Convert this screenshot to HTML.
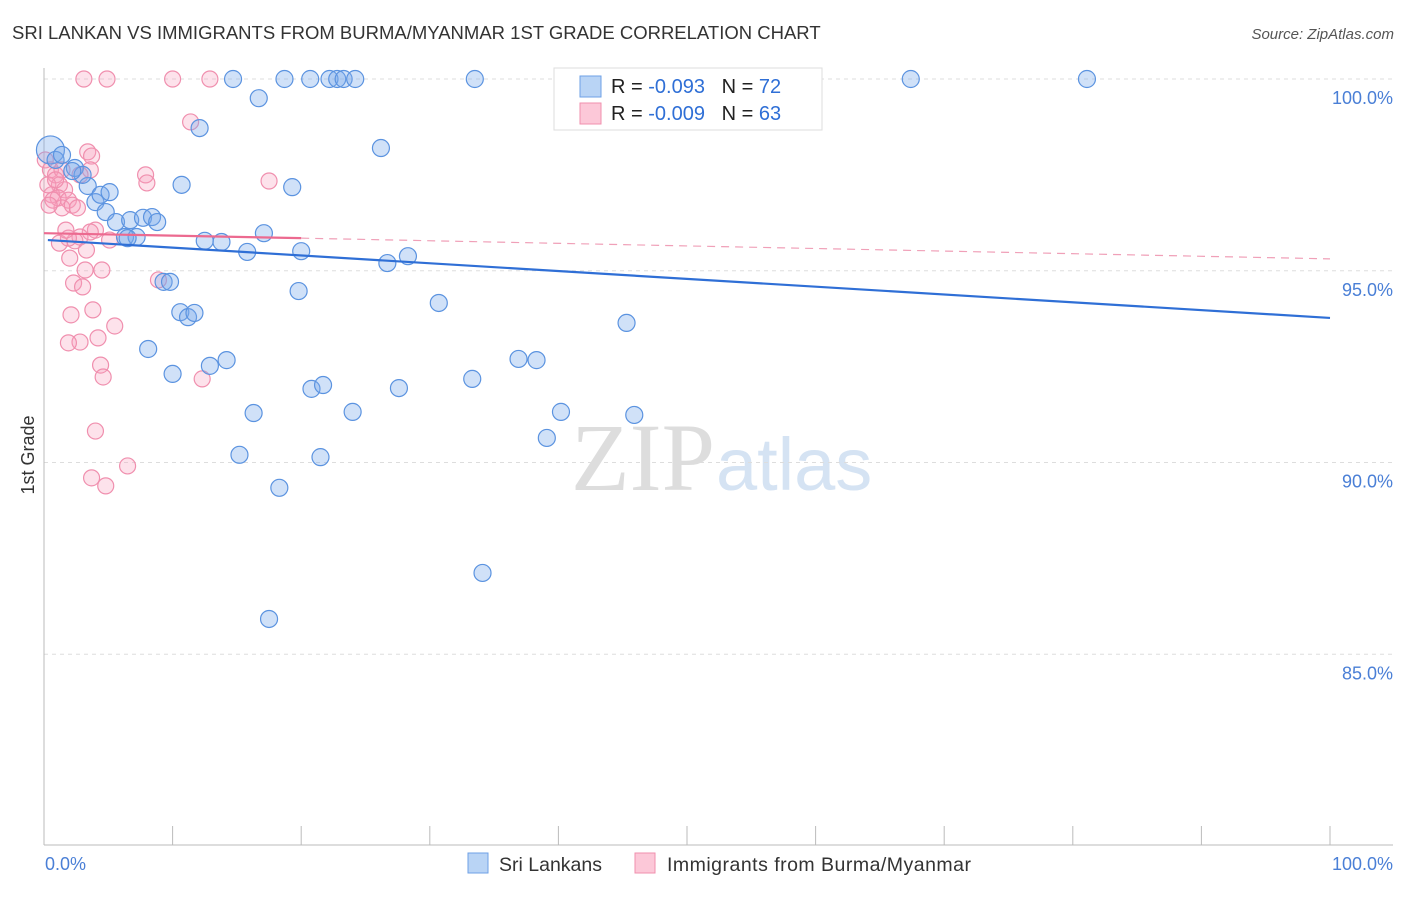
<!DOCTYPE html>
<html><head><meta charset="utf-8"><style>
body{margin:0;background:#fff;font-family:"Liberation Sans",sans-serif;}
</style></head><body>
<svg id="c" width="1406" height="892" xmlns="http://www.w3.org/2000/svg">
<text x="12" y="39" font-size="18.5" fill="#333">SRI LANKAN VS IMMIGRANTS FROM BURMA/MYANMAR 1ST GRADE CORRELATION CHART</text>
<text x="1394" y="39" font-size="15" fill="#555" font-style="italic" text-anchor="end">Source: ZipAtlas.com</text>
<text x="34" y="455" font-size="18" fill="#333" transform="rotate(-90 34 455)" text-anchor="middle">1st Grade</text>
<text x="715" y="490" font-size="96" fill="#ddd" text-anchor="end" font-family="Liberation Serif">ZIP</text>
<text x="716" y="490" font-size="74" fill="#d5e3f3">atlas</text>
<g id="grid"></g><g id="marks"></g>
<g>
<rect x="554" y="68" width="268" height="62" fill="#fff" stroke="#ddd"/>
<rect x="580" y="76" width="21" height="21" fill="#b9d4f5" stroke="#6ea0e6"/>
<rect x="580" y="103" width="21" height="21" fill="#fcc8d8" stroke="#f08fae"/>
<text x="611" y="93" font-size="20" fill="#222">R = <tspan fill="#2f6fd6">-0.093</tspan>&#160;&#160;&#160;N = <tspan fill="#2f6fd6">72</tspan></text>
<text x="611" y="120" font-size="20" fill="#222">R = <tspan fill="#2f6fd6">-0.009</tspan>&#160;&#160;&#160;N = <tspan fill="#2f6fd6">63</tspan></text>
</g>
<rect x="468" y="853" width="20" height="20" fill="#b9d4f5" stroke="#6ea0e6"/>
<text x="499" y="871" font-size="19.5" fill="#333">Sri Lankans</text>
<rect x="635" y="853" width="20" height="20" fill="#fcc8d8" stroke="#f08fae"/>
<text x="667" y="871" font-size="19.5" fill="#333" textLength="304">Immigrants from Burma/Myanmar</text>
<text x="45" y="870" font-size="18" fill="#4a7fd6">0.0%</text>
<text x="1393" y="870" font-size="18" fill="#4a7fd6" text-anchor="end">100.0%</text>
</svg>
<script>
const yTicks=[100,95,90,85];
const yTickLabels=["100.0%","95.0%","90.0%","85.0%"];
const blueX=[0.5,0.9,1.4,2.4,3.4,3.0,4.0,4.4,5.1,4.8,5.6,6.3,6.7,7.2,7.7,8.4,8.8,10.7,12.1,14.7,16.7,18.7,20.7,22.2,22.8,23.3,24.2,33.5,67.4,81.1,41.7,12.5,13.8,15.8,17.1,20.0,19.3,26.2,9.3,9.8,10.6,11.2,11.7,8.1,10.0,12.9,14.2,19.8,26.7,28.3,30.7,45.3,36.9,38.3,33.3,27.6,20.8,21.7,16.3,24.0,40.2,45.9,39.1,15.2,21.5,18.3,34.1,17.5,6.5,2.2];
const blueY=[98.15,97.89,98.02,97.68,97.21,97.5,96.79,96.98,97.05,96.53,96.27,95.88,96.32,95.88,96.38,96.4,96.27,97.24,98.72,100,99.5,100,100,100,100,100,100,100,100,100,100,95.78,95.75,95.49,95.98,95.51,97.18,98.2,94.71,94.71,93.92,93.79,93.9,92.96,92.31,92.52,92.67,94.47,95.2,95.38,94.16,93.64,92.7,92.67,92.18,91.94,91.92,92.02,91.29,91.32,91.32,91.24,90.64,90.2,90.14,89.34,87.12,85.92,95.85,97.6];
const pinkX=[3.1,4.9,10.0,12.9,11.4,17.5,7.9,8.0,3.4,3.7,3.6,0.1,0.5,0.9,1.2,1.6,0.6,1.1,1.9,1.4,2.2,2.6,0.3,0.7,2.8,4.0,3.6,2.8,2.4,1.9,1.2,3.3,2.0,5.1,3.2,4.5,2.3,3.0,3.8,2.1,5.5,4.2,2.8,1.9,4.4,4.6,8.9,12.3,4.0,6.5,3.7,4.8,1.4,0.9,1.7,0.4];
const pinkY=[100,100,100,100,98.88,97.34,97.5,97.29,98.1,97.99,97.63,97.89,97.63,97.5,97.24,97.11,96.98,96.9,96.84,96.64,96.71,96.64,97.24,96.84,97.5,96.06,96.01,95.88,95.78,95.85,95.72,95.54,95.33,95.8,95.02,95.02,94.68,94.58,93.98,93.85,93.56,93.25,93.14,93.12,92.54,92.23,94.76,92.18,90.82,89.91,89.6,89.39,97.63,97.37,96.06,96.71];
const blueTrend=[0.3,95.80,100,93.77];
const pinkTrend=[0,95.98,20,95.85,100,95.31];
const NS="http://www.w3.org/2000/svg";
const sx=v=>44+v*12.86, sy=v=>79+(100-v)*38.35;
const grid=document.getElementById('grid'), marks=document.getElementById('marks');
function mk(tag,attrs,parent){const e=document.createElementNS(NS,tag);for(const k in attrs)e.setAttribute(k,attrs[k]);parent.appendChild(e);return e;}
yTicks.forEach((t,i)=>{
 const l=mk('line',{x1:44,x2:1393,y1:sy(t),y2:sy(t),stroke:'#ddd','stroke-dasharray':'4,4'},grid);
 
 
 const tx=mk('text',{x:1393,y:sy(t)+25,'font-size':18,fill:'#4a7fd6','text-anchor':'end'},grid);
 tx.textContent=yTickLabels[i];
 
 
});
const ax=mk('line',{x1:44,x2:44,y1:68,y2:845,stroke:'#bbb'},grid);


const bx=mk('line',{x1:44,x2:1393,y1:845,y2:845,stroke:'#bbb'},grid);


for(let i=0;i<=10;i++){const t=mk('line',{x1:sx(i*10),x2:sx(i*10),y1:826,y2:845,stroke:'#bbb'},grid);
 
 }
pinkX.forEach((x,i)=>{const c=mk('circle',{cx:sx(x),cy:sy(pinkY[i]),r:8,fill:'rgba(248,160,190,0.3)',stroke:'#f08fae','stroke-width':1.2},marks);
 
 });
blueX.forEach((x,i)=>{const c=mk('circle',{cx:sx(x),cy:sy(blueY[i]),r:i==0?14:8.5,fill:'rgba(120,170,235,0.35)',stroke:'#5b93e0','stroke-width':1.2},marks);
 
 });
const bl=mk('line',{x1:sx(blueTrend[0]),y1:sy(blueTrend[1]),x2:sx(blueTrend[2]),y2:sy(blueTrend[3]),stroke:'#2f6fd6','stroke-width':2.2},marks);


const pl=mk('line',{x1:sx(pinkTrend[0]),y1:sy(pinkTrend[1]),x2:sx(pinkTrend[2]),y2:sy(pinkTrend[3]),stroke:'#ec6a90','stroke-width':2.2},marks);


const pd=mk('line',{x1:sx(pinkTrend[2]),y1:sy(pinkTrend[3]),x2:sx(pinkTrend[4]),y2:sy(pinkTrend[5]),stroke:'#f0a0b8','stroke-width':1.2,'stroke-dasharray':'8,6'},marks);


</script>
</body></html>
